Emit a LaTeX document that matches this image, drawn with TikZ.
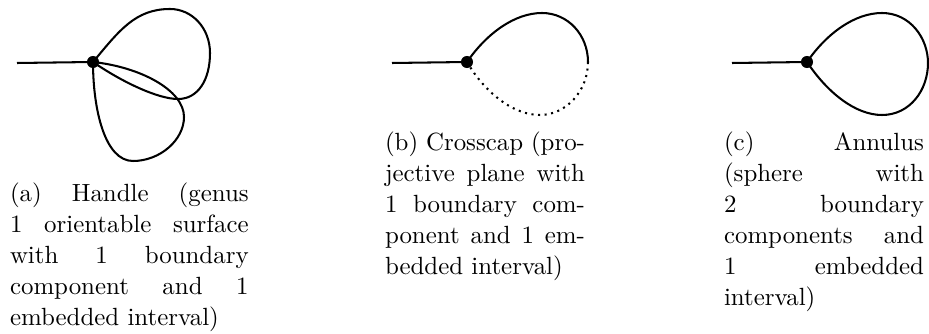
\documentclass[tikz,border=0pt]{standalone}
\begin{document}
\begin{tikzpicture}[x=0.44pt,y=-0.44pt,line width=0.9pt,
  vertex/.style={circle,fill,inner sep=0pt,minimum size=5.3pt},
  halfdots/.style={dash pattern=on 0.9pt off 2pt},
  capt/.style={anchor=north west,inner sep=0pt,align=justify,font=\fontsize{10.95}{13.6}\selectfont}]
\useasboundingbox (0,0) rectangle (929,334);
% (a) handle
\coordinate (va) at (93,62);
\coordinate (ea) at (17,63);
\draw (ea) -- (va);
\draw (va) .. controls (119,31) and (135,9) .. (170,9)
  .. controls (192,9) and (210,28) .. (210,53)
  .. controls (210,80) and (198,99) .. (178,99)
  .. controls (158,99) and (122,82) .. (va);
\draw (va) .. controls (93,110) and (105,161) .. (133,161)
  .. controls (160,161) and (184,140) .. (184,117)
  .. controls (184,90) and (140,67) .. (va);
\node[vertex] (dota) at (va) {};
\node[capt,text width=105pt] (capa) at (9,182) {(a) Handle (genus\linebreak 1 orientable surface\linebreak with 1 boundary\linebreak component and 1\linebreak embedded interval)};
% (b) crosscap
\coordinate (vb) at (467,62);
\coordinate (eb) at (392,63);
\coordinate (rb) at (588,62);
\draw (eb) -- (vb);
\draw (vb) .. controls (487,33) and (515,13) .. (542,13)
  .. controls (568,13) and (588,35) .. (rb);
\draw[halfdots] (rb) .. controls (588,92) and (565,115) .. (540,115)
  .. controls (510,115) and (482,88) .. (vb);
\node[vertex] (dotb) at (vb) {};
\node[capt,text width=88pt] (capb) at (384,131) {(b) Crosscap (pro-\linebreak jective plane with\linebreak 1 boundary com-\linebreak ponent and 1 em-\linebreak bedded interval)};
% (c) annulus
\coordinate (vc) at (807,62);
\coordinate (ec) at (732,63);
\draw (ec) -- (vc);
\draw (vc) .. controls (827,33) and (855,13) .. (882,13)
  .. controls (910,13) and (928,38) .. (928,63)
  .. controls (928,90) and (910,115) .. (882,115)
  .. controls (855,115) and (827,92) .. (vc);
\node[vertex] (dotc) at (vc) {};
\node[capt,text width=88pt] (capc) at (723,131) {(c) Annulus\linebreak (sphere with\linebreak 2 boundary\linebreak components and\linebreak 1 embedded\linebreak interval)};
\end{tikzpicture}
\end{document}
